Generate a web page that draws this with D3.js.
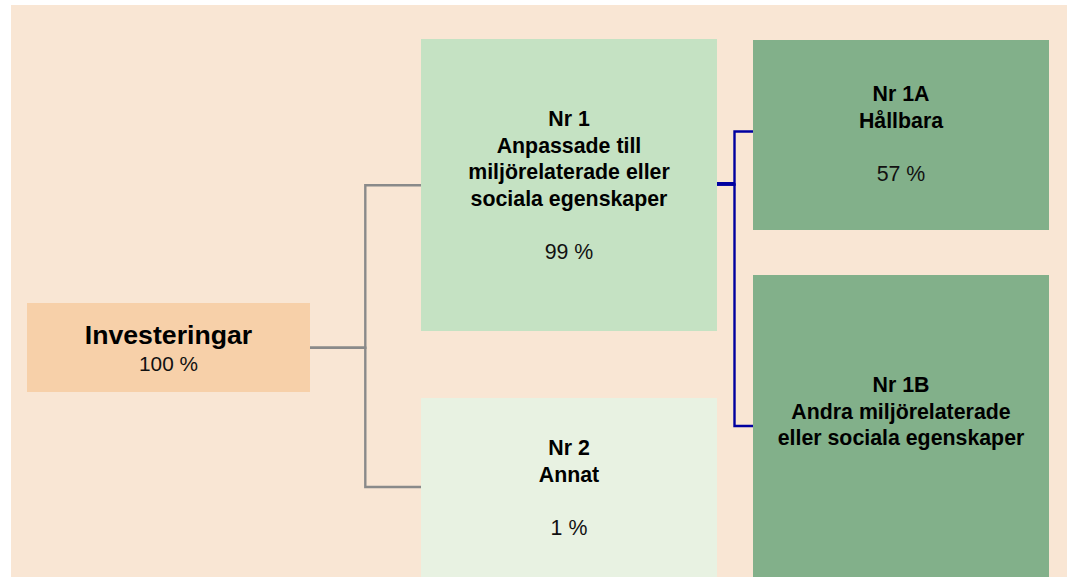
<!doctype html>
<html>
<head>
    <meta charset="utf-8">
    <style>
        body {
            margin: 0;
            background: #ffffff;
            font-family: "Liberation Sans", "Arial", sans-serif;
        }
    </style>
    <script src="https://d3js.org/d3.v7.min.js"></script>
</head>
<body>
<div id="chart"></div>
<script>
    // data
    var nodeIds = ["inv", "nr1", "nr2", "nr1a", "nr1b"];
    var nodeTitles = [
        ["Investeringar"],
        ["Nr 1", "Anpassade till", "miljörelaterade eller", "sociala egenskaper"],
        ["Nr 2", "Annat"],
        ["Nr 1A", "Hållbara"],
        ["Nr 1B", "Andra miljörelaterade", "eller sociala egenskaper"]
    ];
    var nodeShares = ["100 %", "99 %", "1 %", "57 %", ""];
    var nodeParents = [null, "inv", "inv", "nr1", "nr1"];

    var width = 1072, height = 577;

    // box layout (x0, y0, x1, y1, first text baseline)
    var layout = {
        inv:  {x0: 27,  y0: 303, x1: 310,  y1: 392, base: 343.5, fill: "#f7d0a9"},
        nr1:  {x0: 421, y0: 39,  x1: 717,  y1: 331, base: 126,   fill: "#c5e2c3"},
        nr2:  {x0: 421, y0: 398, x1: 717,  y1: 577, base: 455,   fill: "#e8f2e2"},
        nr1a: {x0: 753, y0: 40,  x1: 1049, y1: 230, base: 101,   fill: "#82b08a"},
        nr1b: {x0: 753, y0: 275, x1: 1049, y1: 577, base: 392,   fill: "#82b08a"}
    };
    var lineH = 26.67;

    var svg = d3.select("#chart").append("svg")
        .attr("width", width)
        .attr("height", height);

    svg.append("rect")
        .attr("x", 11).attr("y", 5)
        .attr("width", 1056).attr("height", 572)
        .attr("fill", "#f9e6d4");

    var nodes = nodeIds.map(function(id, i) {
        return {id: id, titles: nodeTitles[i], share: nodeShares[i], parent: nodeParents[i]};
    });
    var root = d3.stratify()
        .id(function(d) { return d.id; })
        .parentId(function(d) { return d.parent; })(nodes);

    // connectors: elbow from parent right edge to child left edge
    var elbow = {
        inv: {x: 365.3, y: 347.7, color: "#8a8a8a", w: 2.4},
        nr1: {x: 734.5, y: 184.5, color: "#0000a0", w: 2.4}
    };
    var childY = {nr1: 185.3, nr2: 487, nr1a: 131.5, nr1b: 426};

    root.links().forEach(function(l) {
        var p = layout[l.source.id], c = layout[l.target.id], e = elbow[l.source.id];
        var cy = childY[l.target.id];
        svg.append("path")
            .attr("d", "M" + p.x1 + "," + e.y + "H" + e.x + "V" + cy + "H" + c.x0)
            .attr("fill", "none")
            .attr("stroke", e.color)
            .attr("stroke-width", e.w);
    });
    // doubled stub on the blue branch
    svg.append("line")
        .attr("x1", 715).attr("x2", 735)
        .attr("y1", 183).attr("y2", 183)
        .attr("stroke", "#0000a0").attr("stroke-width", 2);

    var g = svg.selectAll("g.node")
        .data(root.descendants())
        .join("g")
        .attr("class", "node");

    g.append("rect")
        .attr("x", function(d) { return layout[d.id].x0; })
        .attr("y", function(d) { return layout[d.id].y0; })
        .attr("width", function(d) { return layout[d.id].x1 - layout[d.id].x0; })
        .attr("height", function(d) { return layout[d.id].y1 - layout[d.id].y0; })
        .attr("fill", function(d) { return layout[d.id].fill; });

    g.each(function(d) {
        var L = layout[d.id];
        var cx = (L.x0 + L.x1) / 2;
        var sel = d3.select(this);
        var isRoot = d.depth === 0;
        d.data.titles.forEach(function(t, i) {
            sel.append("text")
                .attr("x", cx)
                .attr("y", L.base + i * lineH)
                .attr("text-anchor", "middle")
                .attr("font-weight", "bold")
                .attr("font-size", isRoot ? "26.67px" : "21.33px")
                .attr("fill", "#000")
                .text(t);
        });
        if (d.data.share) {
            var n = d.data.titles.length;
            var y = isRoot ? L.base + 27.5 : L.base + (n + 1) * lineH;
            sel.append("text")
                .attr("x", cx)
                .attr("y", y)
                .attr("text-anchor", "middle")
                .attr("font-size", isRoot ? "20.8px" : "21.33px")
                .attr("fill", "#111")
                .text(d.data.share);
        }
    });
</script>
</body>
</html>
